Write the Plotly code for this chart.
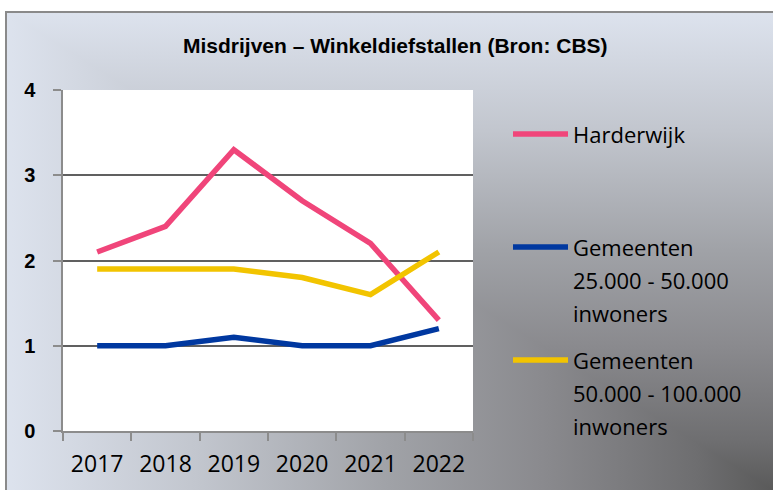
import base64
import plotly.graph_objects as go

years = ["2017", "2018", "2019", "2020", "2021", "2022"]
harderwijk = [2.1, 2.4, 3.3, 2.7, 2.2, 1.3]
gem_25_50 = [1.0, 1.0, 1.1, 1.0, 1.0, 1.2]
gem_50_100 = [1.9, 1.9, 1.9, 1.8, 1.6, 2.1]
series_names = ["Harderwijk",
                "Gemeenten<br>25.000 - 50.000<br>inwoners",
                "Gemeenten<br>50.000 - 100.000<br>inwoners"]
series_values = [harderwijk, gem_25_50, gem_50_100]
series_colors = ["#F0457A", "#0038A0", "#F2C400"]
title_text = "Misdrijven \u2013 Winkeldiefstallen (Bron: CBS)"
y_ticks = [0, 1, 2, 3, 4]

W, H = 773, 490
L, R, T, B = 63, 300, 90, 59
pw, ph = W - L - R, H - T - B


def px(x):
    return (x - L) / pw


def py(y):
    return (H - B - y) / ph


# rectangular "path" gradient background (dark in bottom-right corner)
bx, by = 5, 11
bw, bh = W - bx, H - by
stops = """<stop offset="0" stop-color="#dde3ee"/>
<stop offset="0.25" stop-color="#c2c6ce"/>
<stop offset="0.5" stop-color="#a0a2a7"/>
<stop offset="0.7" stop-color="#8a8a8e"/>
<stop offset="0.9" stop-color="#6e6e70"/>
<stop offset="1" stop-color="#5a5a5a"/>"""
svg = f'''<svg xmlns="http://www.w3.org/2000/svg" width="{bw}" height="{bh}" viewBox="0 0 {bw} {bh}">
<defs>
<linearGradient id="gh" gradientUnits="userSpaceOnUse" x1="0" y1="0" x2="{bw}" y2="0">{stops}</linearGradient>
<linearGradient id="gv" gradientUnits="userSpaceOnUse" x1="0" y1="0" x2="0" y2="{bh}">{stops}</linearGradient>
</defs>
<rect x="0" y="0" width="{bw}" height="{bh}" fill="url(#gh)"/>
<polygon points="0,0 {bw},0 {bw},{bh}" fill="url(#gv)"/>
<path d="M1,{bh} L1,1 L{bw},1" fill="none" stroke="#8a8a8a" stroke-width="2"/>
</svg>'''
src = "data:image/svg+xml;base64," + base64.b64encode(svg.encode()).decode()

fig = go.Figure()
for name, vals, col in zip(series_names, series_values, series_colors):
    fig.add_trace(go.Scatter(x=years, y=vals, mode="lines", name=name,
                             line=dict(color=col, width=5.5),
                             showlegend=False))

fig.add_layout_image(dict(source=src, xref="paper", yref="paper",
                          x=px(bx), y=py(by), sizex=bw / pw, sizey=bh / ph,
                          xanchor="left", yanchor="top", sizing="stretch",
                          layer="below"))
# white plot area
fig.add_shape(type="rect", xref="paper", yref="paper", x0=0, x1=1, y0=0, y1=1,
              fillcolor="white", line=dict(width=0), layer="below")

# legend drawn manually
legend_y = [134, 247, 360]
line_gap = 33
for name, col, y0 in zip(series_names, series_colors, legend_y):
    fig.add_shape(type="line", xref="paper", yref="paper",
                  x0=px(513), x1=px(568), y0=py(y0), y1=py(y0),
                  line=dict(color=col, width=5.5))
    for i, part in enumerate(name.split("<br>")):
        fig.add_annotation(text=part, xref="paper", yref="paper",
                           x=px(571), y=py(y0 + i * line_gap),
                           xanchor="left", yanchor="middle", showarrow=False,
                           font=dict(family="Open Sans", size=22, color="#000000"))

fig.add_annotation(text="<b>" + title_text + "</b>", xref="paper", yref="paper",
                   x=px(395), y=py(46), xanchor="center", yanchor="middle",
                   showarrow=False,
                   font=dict(family="Liberation Sans Narrow, Liberation Sans", size=21,
                             color="#000000"))

fig.update_layout(
    width=W, height=H, autosize=False,
    margin=dict(l=L, r=R, t=T, b=B, pad=0),
    paper_bgcolor="white", plot_bgcolor="white",
    showlegend=False,
)
fig.update_xaxes(type="category", range=[-0.5, 5.5], tickson="boundaries",
                 ticks="outside", ticklen=8, tickwidth=1.5, tickcolor="#8c8c8c",
                 showline=True, linecolor="#8c8c8c", linewidth=1.5,
                 showgrid=False, zeroline=False, ticklabelstandoff=12,
                 tickfont=dict(family="Open Sans", size=23, color="#000000"))
fig.update_yaxes(range=[0, 4], tickvals=y_ticks, ticks="outside", ticklen=8,
                 tickwidth=1.5, tickcolor="#8c8c8c", showline=True,
                 linecolor="#8c8c8c", linewidth=1.5, showgrid=True,
                 gridcolor="#606060", gridwidth=1.5, zeroline=False,
                 ticklabelstandoff=14,
                 tickfont=dict(family="Liberation Sans", size=20, color="#000000",
                               weight="bold"))

fig.write_html("out.html", config={"displayModeBar": False},
               post_script="document.body.style.margin='0';")
